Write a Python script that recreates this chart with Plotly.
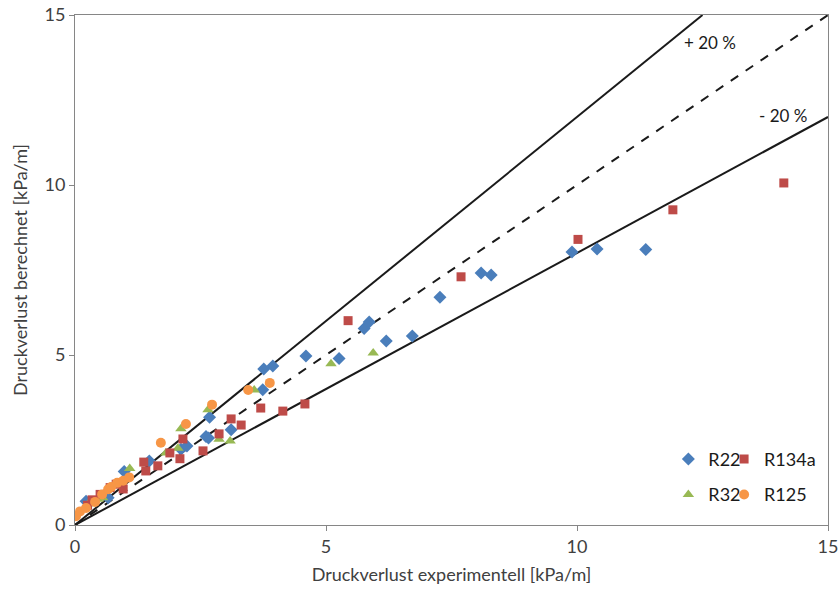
import plotly.graph_objects as go

# ---- data ----
r22_x = [0.22, 0.66, 0.98, 1.48, 2.11, 2.23, 2.61, 2.66, 2.68, 3.11, 3.74, 3.76, 3.94, 4.60, 5.26,
         5.76, 5.86, 6.20, 6.72, 7.27, 8.09, 8.29, 9.90, 10.40, 11.37]
r22_y = [0.70, 0.80, 1.57, 1.88, 2.23, 2.32, 2.60, 2.56, 3.17, 2.80, 3.98, 4.59, 4.68, 4.97, 4.90,
         5.78, 5.97, 5.41, 5.56, 6.70, 7.41, 7.35, 8.03, 8.12, 8.10]

r134a_x = [0.25, 0.34, 0.50, 0.70, 0.82, 0.96, 1.37, 1.41, 1.65, 1.89, 2.09, 2.15, 2.55, 2.87, 3.11,
           3.31, 3.70, 4.14, 4.58, 5.44, 7.69, 10.02, 11.91, 14.12]
r134a_y = [0.58, 0.74, 0.90, 1.10, 1.20, 1.06, 1.85, 1.59, 1.74, 2.12, 1.95, 2.53, 2.18, 2.68, 3.12,
           2.94, 3.44, 3.35, 3.56, 6.01, 7.30, 8.40, 9.27, 10.06]

r32_x = [0.26, 0.46, 0.55, 1.09, 1.81, 2.05, 2.11, 2.65, 2.87, 3.09, 3.57, 5.10, 5.94]
r32_y = [0.62, 0.76, 0.80, 1.66, 2.12, 2.26, 2.83, 3.39, 2.52, 2.47, 3.97, 4.74, 5.06]

r125_x = [0.02, 0.10, 0.22, 0.40, 0.54, 0.66, 0.72, 0.84, 0.96, 1.08, 1.71, 2.21, 2.73, 3.45, 3.88]
r125_y = [0.26, 0.40, 0.50, 0.68, 0.90, 1.05, 1.12, 1.24, 1.30, 1.40, 2.42, 2.97, 3.54, 3.97, 4.18]

# reference lines: y = x, y = 1.2 x, y = 0.8 x
line_x = [0, 15]
ref_ideal = [0, 15]
plus20_x = [0, 12.5]
plus20_y = [0, 15]
minus20_y = [0, 12]

x_ticks = [0, 5, 10, 15]
y_ticks = [0, 5, 10, 15]

FONT = "Lato"
LINE_C = "#1a1a1a"
TXT_C = "#404040"

fig = go.Figure()

fig.add_trace(go.Scatter(x=plus20_x, y=plus20_y, mode="lines", showlegend=False,
                         line=dict(color=LINE_C, width=2), hoverinfo="skip"))
fig.add_trace(go.Scatter(x=line_x, y=ref_ideal, mode="lines", showlegend=False,
                         line=dict(color=LINE_C, width=2, dash="dash"), hoverinfo="skip"))
fig.add_trace(go.Scatter(x=line_x, y=minus20_y, mode="lines", showlegend=False,
                         line=dict(color=LINE_C, width=2), hoverinfo="skip"))

fig.add_trace(go.Scatter(x=r22_x, y=r22_y, mode="markers", name="R22", legend="legend",
                         legendgroup="a",
                         marker=dict(symbol="diamond", size=10, color="#4A7EBB")))
fig.add_trace(go.Scatter(x=r32_x, y=r32_y, mode="markers", name="R32", legend="legend",
                         legendgroup="b",
                         marker=dict(symbol="triangle-up", size=10, color="#98B954")))
fig.add_trace(go.Scatter(x=r134a_x, y=r134a_y, mode="markers", name="R134a", legend="legend2",
                         legendgroup="c",
                         marker=dict(symbol="square", size=9, color="#BE4B48")))
fig.add_trace(go.Scatter(x=r125_x, y=r125_y, mode="markers", name="R125", legend="legend2",
                         legendgroup="d",
                         marker=dict(symbol="circle", size=10, color="#F79646")))

axis_common = dict(range=[0, 15], showgrid=False, zeroline=False, showline=True,
                   linecolor="#868686", linewidth=1, mirror=True, ticks="outside",
                   ticklen=5, tickcolor="#868686", automargin=False,
                   ticklabeloverflow="allow",
                   tickfont=dict(family=FONT, size=18, color=TXT_C))

fig.update_xaxes(**axis_common, tickvals=x_ticks,
                 title=dict(text="Druckverlust experimentell [kPa/m]",
                            font=dict(family=FONT, size=18, color=TXT_C), standoff=12))
fig.update_yaxes(**axis_common, tickvals=y_ticks,
                 title=dict(text="Druckverlust berechnet [kPa/m]",
                            font=dict(family=FONT, size=18, color=TXT_C), standoff=12))

fig.add_annotation(x=12.65, y=14.2, text="+ 20 %", showarrow=False,
                   font=dict(family=FONT, size=17, color="#1a1a1a"))
fig.add_annotation(x=14.1, y=12.05, text="- 20 %", showarrow=False,
                   font=dict(family=FONT, size=17, color="#1a1a1a"))

leg_common = dict(font=dict(family=FONT, size=18, color="#1a1a1a"),
                  bgcolor="rgba(0,0,0,0)", tracegroupgap=9, itemwidth=30,
                  yanchor="top", y=0.165, xanchor="left")

fig.update_layout(
    width=839, height=595,
    margin=dict(l=75, r=11, t=15, b=70),
    paper_bgcolor="white", plot_bgcolor="white",
    legend=dict(**leg_common, x=0.788),
    legend2=dict(**leg_common, x=0.862),
)

# remove the default page margin so the figure fills the window exactly
fig.write_html("out.html",
               config={"displayModeBar": False},
               post_script="document.body.style.margin='0';document.body.style.overflow='hidden';")
